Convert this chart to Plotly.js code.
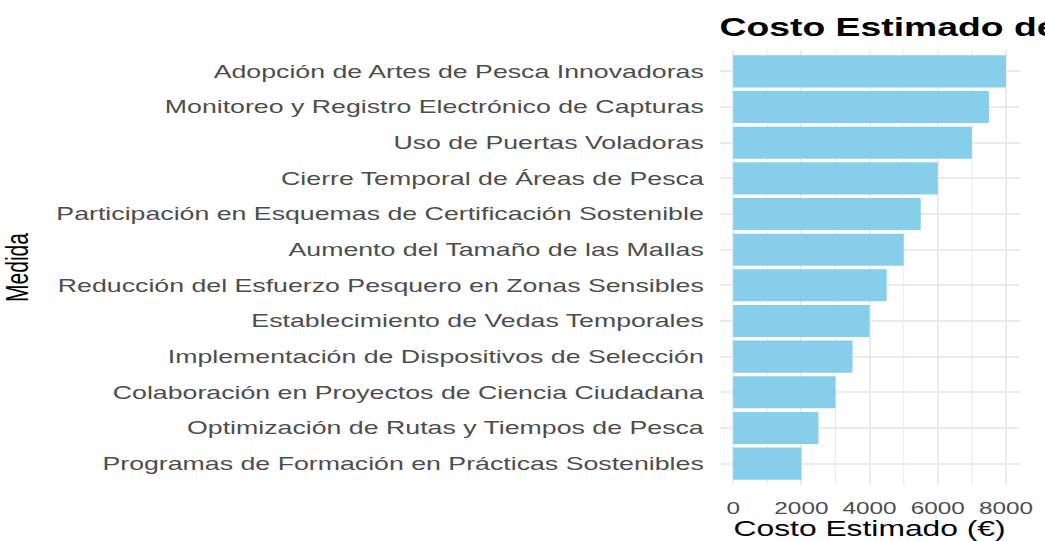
<!DOCTYPE html>
<html>
<head>
<meta charset="utf-8">
<script src="https://cdn.plot.ly/plotly-3.0.1.min.js"></script>
<style>
  html, body { margin: 0; padding: 0; background: #fff; overflow: hidden; }
  #wrap { width: 700px; height: 541px; transform: scaleX(1.492857); transform-origin: 0 0; }
</style>
</head>
<body>
<div id="wrap"><div id="chart"></div></div>
<script>
// Categories listed top to bottom as shown in the chart
const medidas = [
  "Adopción de Artes de Pesca Innovadoras",
  "Monitoreo y Registro Electrónico de Capturas",
  "Uso de Puertas Voladoras",
  "Cierre Temporal de Áreas de Pesca",
  "Participación en Esquemas de Certificación Sostenible",
  "Aumento del Tamaño de las Mallas",
  "Reducción del Esfuerzo Pesquero en Zonas Sensibles",
  "Establecimiento de Vedas Temporales",
  "Implementación de Dispositivos de Selección",
  "Colaboración en Proyectos de Ciencia Ciudadana",
  "Optimización de Rutas y Tiempos de Pesca",
  "Programas de Formación en Prácticas Sostenibles"
];
const costos = [8000, 7500, 7000, 6000, 5500, 5000, 4500, 4000, 3500, 3000, 2500, 2000];
const xTicks = [0, 2000, 4000, 6000, 8000];
const xTickLabels = ["0", "2000", "4000", "6000", "8000"];

const chartTitle = "Costo Estimado de Implementación de Medidas";
const xTitle = "Costo Estimado (€)";
const yTitle = "Medida";

const FONT = "Liberation Sans, Arial, Helvetica, sans-serif";
const GRID = "#EBEBEB";

const trace = {
  type: "bar",
  orientation: "h",
  x: costos,
  y: medidas,
  width: 0.9,
  marker: { color: "#87CEEB", line: { width: 0 } },
  hoverinfo: "x+y"
};

const layout = {
  width: 700,
  height: 541,
  margin: { l: 482, r: 17, t: 50, b: 56 },
  paper_bgcolor: "#ffffff",
  plot_bgcolor: "#ffffff",
  showlegend: false,
  bargap: 0.1,
  font: { family: FONT, color: "#4D4D4D" },
  title: {
    text: chartTitle,
    x: 0, xref: "paper", xanchor: "left",
    y: 1 - 27 / 541, yref: "container", yanchor: "middle",
    font: { family: FONT, size: 25, color: "#000000", weight: "bold" }
  },
  xaxis: {
    range: [-400, 8400],
    tickvals: xTicks,
    ticktext: xTickLabels,
    showgrid: true,
    gridcolor: GRID,
    gridwidth: 1.4,
    zeroline: false,
    showline: false,
    ticks: "outside",
    ticklen: 8,
    tickcolor: "rgba(0,0,0,0)",
    tickfont: { family: FONT, size: 16.3, color: "#4D4D4D" },
    minor: { dtick: 1000, tick0: 0, showgrid: true, gridcolor: GRID, gridwidth: 0.8 },
    title: { text: xTitle, standoff: 2, font: { family: FONT, size: 21.3, color: "#000000" } },
    fixedrange: true
  },
  yaxis: {
    type: "category",
    categoryorder: "array",
    categoryarray: medidas,
    range: [11.6, -0.6],
    showgrid: true,
    gridcolor: GRID,
    gridwidth: 1.8,
    zeroline: false,
    showline: false,
    ticks: "outside",
    ticklen: 6,
    tickcolor: "rgba(0,0,0,0)",
    tickfont: { family: FONT, size: 17.9, color: "#4D4D4D" },
    title: { text: yTitle, standoff: 113, font: { family: FONT, size: 21, color: "#000000" } },
    automargin: false,
    fixedrange: true
  }
};

Plotly.newPlot("chart", [trace], layout, { displayModeBar: false, staticPlot: true });
</script>
</body>
</html>
